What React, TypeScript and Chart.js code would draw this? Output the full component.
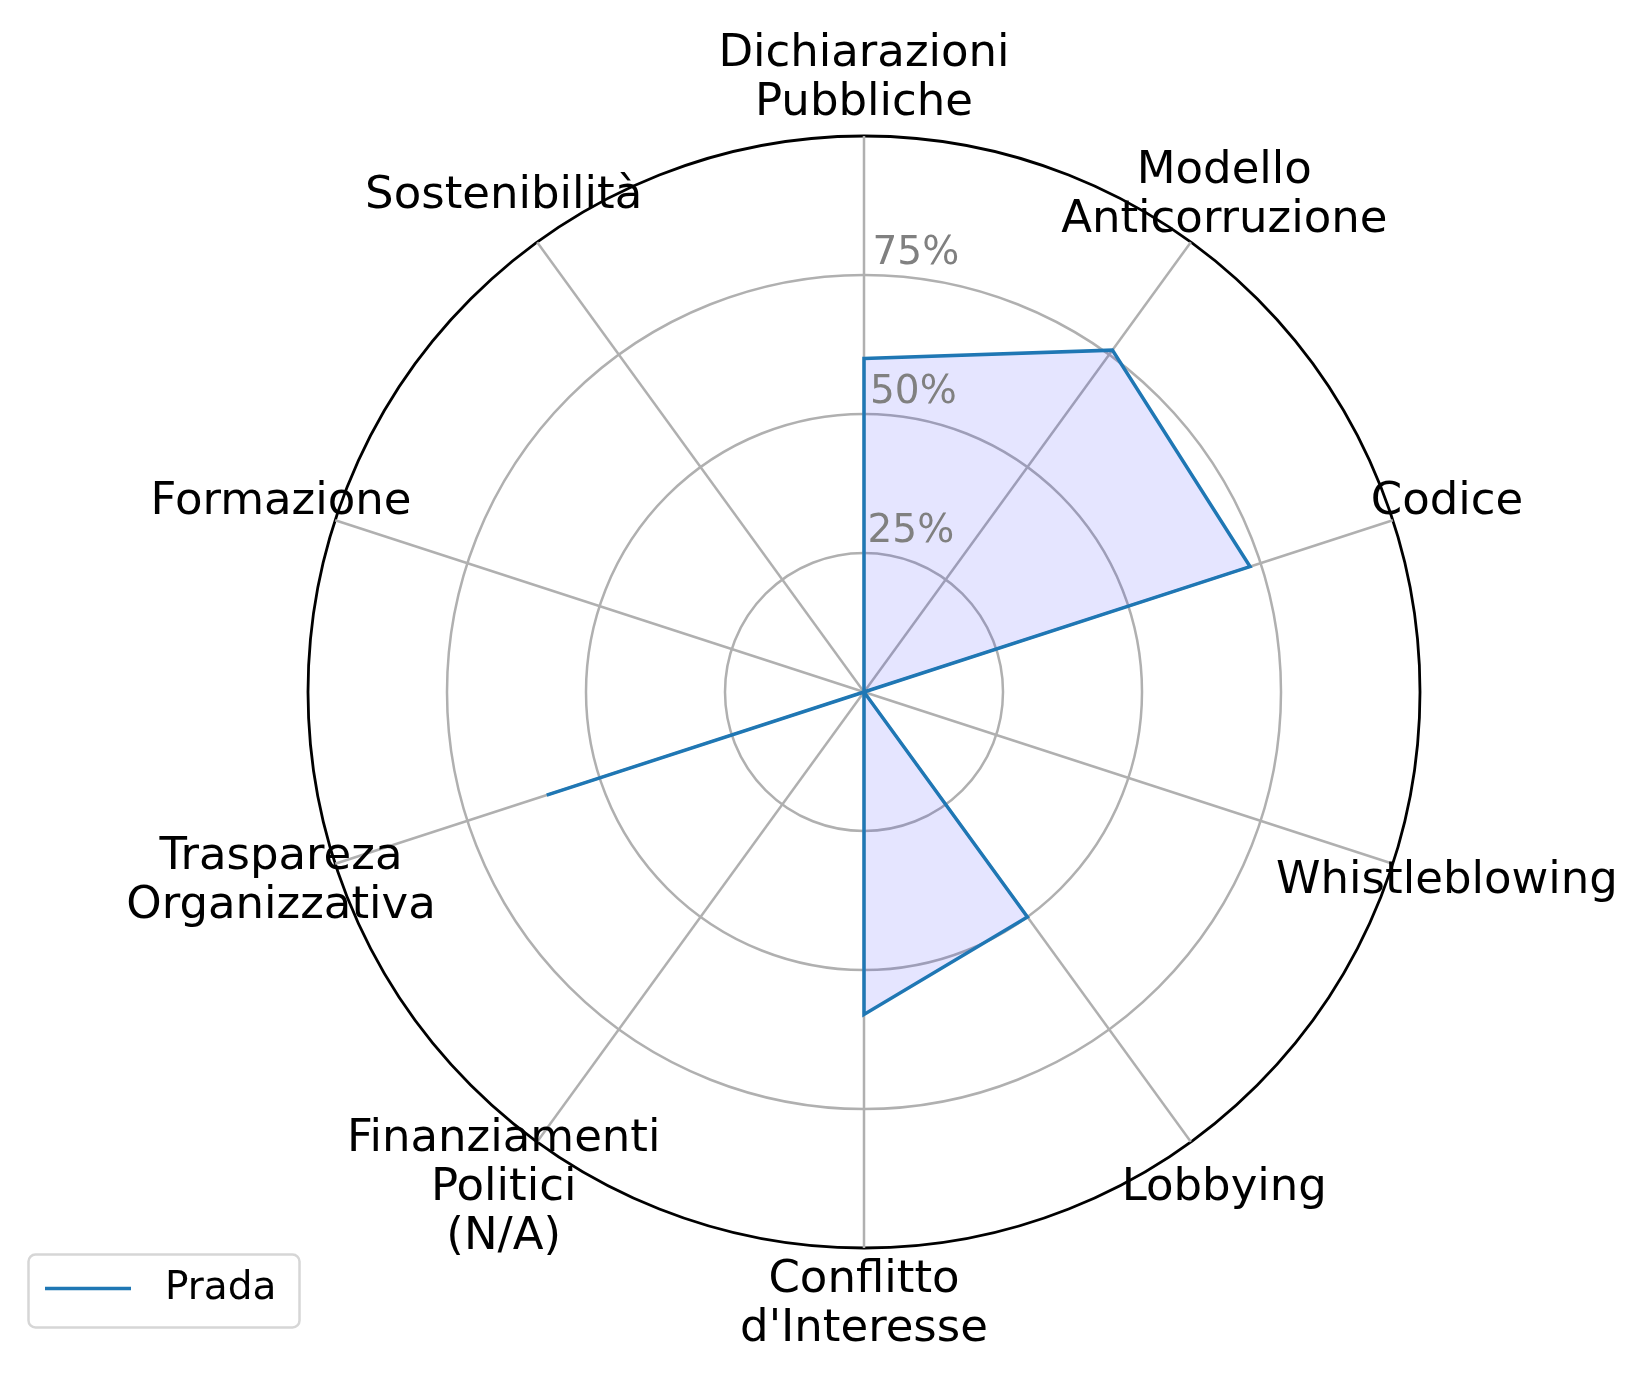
import React, { useEffect, useRef } from "react";
import { Chart, registerables } from "chart.js";

Chart.register(...registerables);

// ---- Data ----
const categories: (string | string[])[] = [
  ["Dichiarazioni", "Pubbliche"],
  ["Modello", "Anticorruzione"],
  "Codice",
  "Whistleblowing",
  "Lobbying",
  ["Conflitto", "d'Interesse"],
  ["Finanziamenti", "Politici", "(N/A)"],
  ["Traspareza", "Organizzativa"],
  "Formazione",
  "Sostenibilità",
];
const seriesName = "Prada";
const pradaValues = [60, 76, 73, 0, 50, 58, 0, 60, 0, 0];
const tickValues = [25, 50, 75];
const tickLabels = ["25%", "50%", "75%"];
const scaleMin = 0;
const scaleMax = 100;

const FONT = '"DejaVu Sans", "Liberation Sans", sans-serif';
const LINE_COLOR = "#1f77b4";

export default function App() {
  const ref = useRef<HTMLCanvasElement | null>(null);

  useEffect(() => {
    const canvas = ref.current;
    if (!canvas) return;

    const decorPlugin = {
      id: "mplDecor",
      afterDatasetsDraw(chart: any) {
        const scale = chart.scales.r;
        const ctx = chart.ctx as CanvasRenderingContext2D;
        ctx.save();

        // radial tick labels
        ctx.font = `39px ${FONT}`;
        ctx.fillStyle = "#808080";
        ctx.textAlign = "left";
        ctx.textBaseline = "alphabetic";
        tickValues.forEach((v, i) => {
          const r = scale.getDistanceFromCenterForValue(v);
          ctx.fillText(tickLabels[i], scale.xCenter + 1 + r * 0.018, scale.yCenter - r - 11);
        });

        // category labels
        ctx.font = `45px ${FONT}`;
        ctx.fillStyle = "#000000";
        ctx.textAlign = "center";
        ctx.textBaseline = "middle";
        (chart.data.labels as (string | string[])[]).forEach((lab, i) => {
          const lines = Array.isArray(lab) ? lab : [lab];
          const p = scale.getPointPosition(i, scale.drawingArea + 57);
          lines.forEach((ln, j) => {
            ctx.fillText(ln, p.x, p.y + (j - (lines.length - 1) / 2) * 49);
          });
        });

        // legend
        const bx = 28.5, by = 1254.5, bw = 271, bh = 73, rad = 7;
        ctx.beginPath();
        ctx.moveTo(bx + rad, by);
        ctx.arcTo(bx + bw, by, bx + bw, by + bh, rad);
        ctx.arcTo(bx + bw, by + bh, bx, by + bh, rad);
        ctx.arcTo(bx, by + bh, bx, by, rad);
        ctx.arcTo(bx, by, bx + bw, by, rad);
        ctx.closePath();
        ctx.fillStyle = "rgba(255,255,255,0.8)";
        ctx.fill();
        ctx.strokeStyle = "#d6d6d6";
        ctx.lineWidth = 2.5;
        ctx.stroke();

        const ds = chart.data.datasets[0];
        ctx.beginPath();
        ctx.moveTo(45, 1288.5);
        ctx.lineTo(131, 1288.5);
        ctx.strokeStyle = ds.borderColor;
        ctx.lineWidth = 3.5;
        ctx.stroke();

        ctx.font = `39px ${FONT}`;
        ctx.fillStyle = "#000000";
        ctx.textAlign = "left";
        ctx.textBaseline = "middle";
        ctx.fillText(ds.label, 165, 1289);

        ctx.restore();
      },
    };

    const chart = new Chart(canvas, {
      type: "radar",
      data: {
        labels: categories as any,
        datasets: [
          {
            label: seriesName,
            data: pradaValues,
            borderColor: LINE_COLOR,
            backgroundColor: "rgba(0,0,255,0.1)",
            borderWidth: 3.5,
            fill: true,
            pointRadius: 0,
            pointHoverRadius: 0,
            tension: 0,
          },
        ],
      },
      options: {
        responsive: false,
        animation: false,
        devicePixelRatio: 1,
        layout: { padding: { left: 308, right: 230, top: 136, bottom: 134 } },
        plugins: {
          legend: { display: false },
          tooltip: { enabled: false },
        },
        scales: {
          r: {
            min: scaleMin,
            max: scaleMax,
            ticks: { display: false, stepSize: 25 },
            pointLabels: { display: false },
            grid: {
              circular: true,
              color: (c: any) => (c.tick && c.tick.value === scaleMax ? "#000000" : "#b0b0b0"),
              lineWidth: (c: any) => (c.tick && c.tick.value === scaleMax ? 2.8 : 2.5),
            },
            angleLines: { color: "#b0b0b0", lineWidth: 2.5 },
          },
        },
      },
      plugins: [decorPlugin],
    });

    return () => chart.destroy();
  }, []);

  return (
    <canvas
      ref={ref}
      width={1650}
      height={1382}
      style={{ position: "absolute", left: 0, top: 0, width: 1650, height: 1382, background: "#ffffff" }}
    />
  );
}
